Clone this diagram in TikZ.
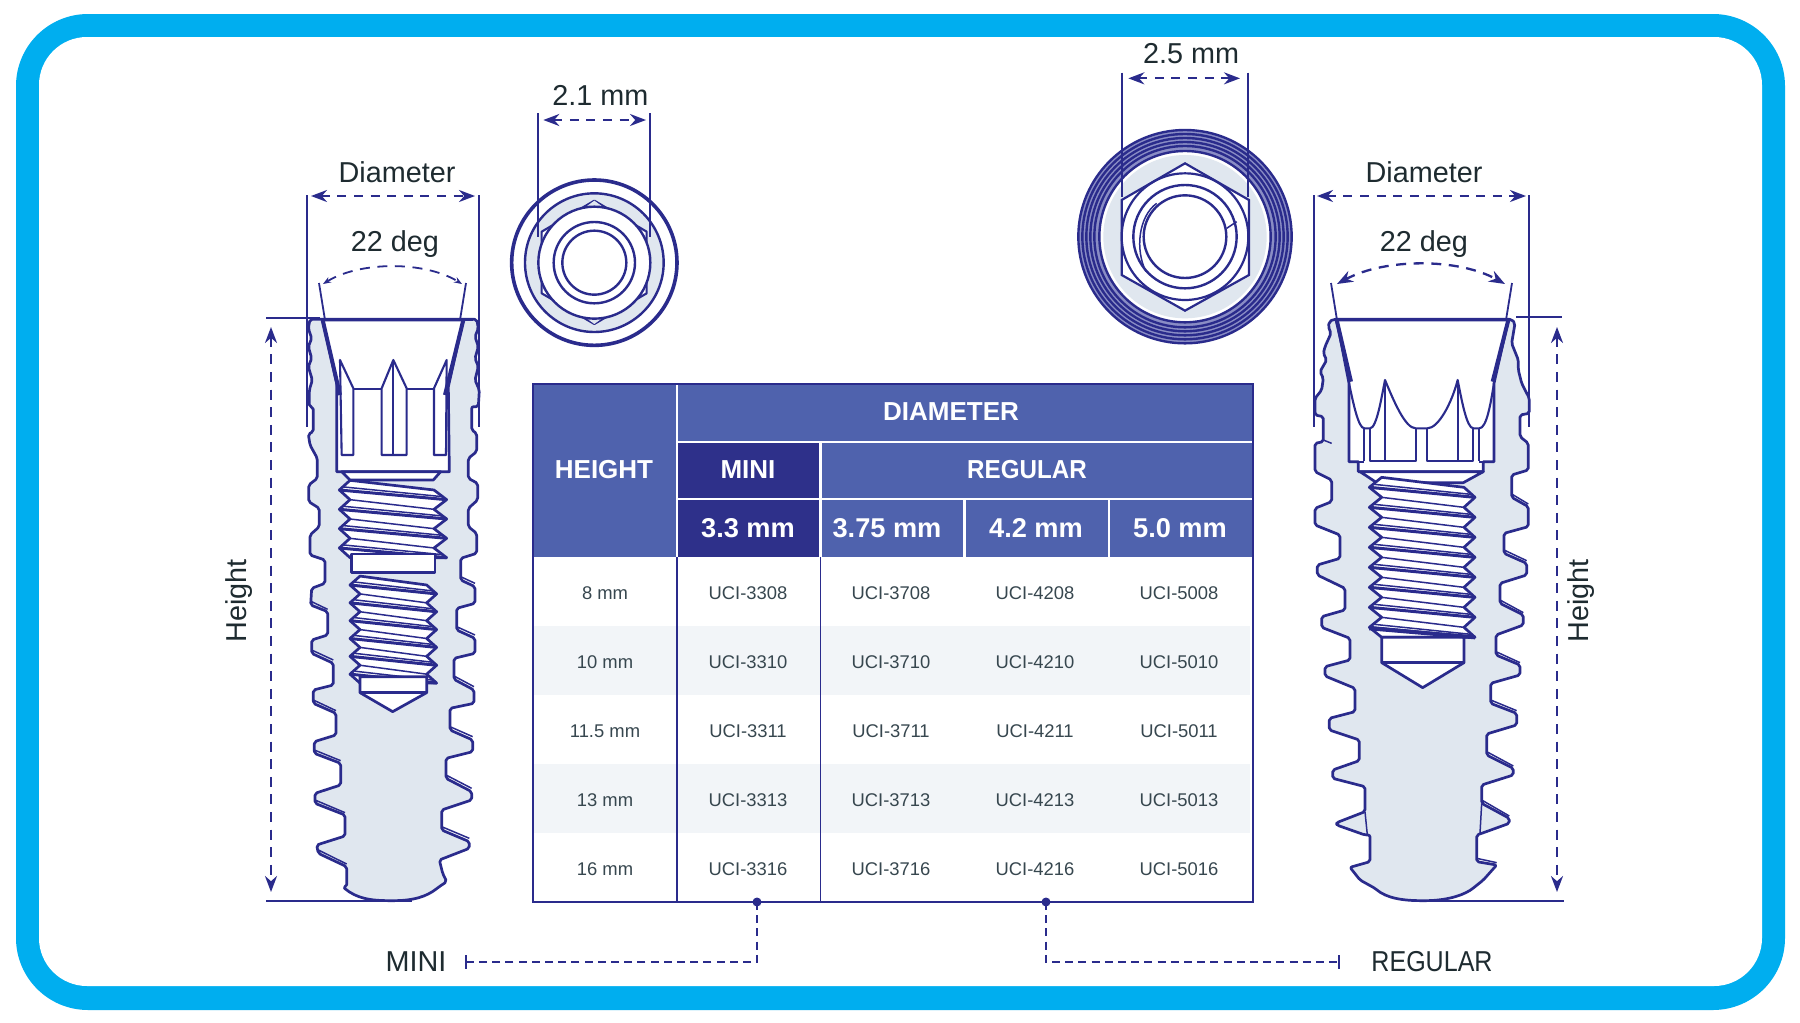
\documentclass[tikz,border=0pt]{standalone}
\usepackage{fontspec}
\setmainfont{Liberation Sans}
\usetikzlibrary{arrows.meta}
\definecolor{ln}{HTML}{2A2B8C}
\definecolor{frame}{HTML}{00AEEF}
\definecolor{hdr}{HTML}{4F62AD}
\definecolor{hdk}{HTML}{2E308A}
\definecolor{body}{HTML}{E0E7EF}
\definecolor{band}{HTML}{F2F5F8}
\definecolor{txt}{HTML}{1E2B30}
\definecolor{ctxt}{HTML}{37474F}
\definecolor{gapc}{HTML}{8A8DC5}
\tikzset{
 lab/.style={inner sep=0pt,text=txt,font=\fontsize{14.4pt}{17pt}\selectfont},
 hd/.style={inner sep=0pt,text=white,font=\fontsize{13pt}{15pt}\selectfont\bfseries},
 hdn/.style={inner sep=0pt,text=white,font=\fontsize{13.6pt}{15pt}\selectfont\bfseries},
 cellt/.style={inner sep=0pt,text=ctxt,font=\fontsize{9.2pt}{11pt}\selectfont},
 dim/.style={draw=ln,line width=1.15pt,dash pattern=on 4.5pt off 3.8pt,{Stealth[length=8pt,width=6pt]}-{Stealth[length=8pt,width=6pt]}},
 dimone/.style={draw=ln,line width=1.15pt,dash pattern=on 5pt off 3.8pt},
 guide/.style={draw=ln,line width=.9pt},
 outl/.style={draw=ln,line width=1.35pt,line join=round},
 thn/.style={draw=ln,line width=.75pt,line join=round},
 thk/.style={draw=ln,line width=1.5pt,line join=round},
 blade/.style={draw=ln,line width=1.05pt,line join=round},
 lead/.style={draw=ln,line width=1pt,dash pattern=on 4pt off 2.6pt},
}
\newcommand{\thrd}[7]{%
 \filldraw[fill=white,outl] (#2,{#5-#6/2})
 \foreach \k in {1,...,#7}{ -- (#1,{#5+(\k-1)*#6}) -- (#2,{#5+(\k-1)*#6+#6/2}) }
 -- (#4,{#5+(#7-1)*#6+#6/2})
 \foreach \k in {#7,...,1}{ -- (#3,{#5+(\k-1)*#6+#6/2}) -- (#4,{#5+(\k-1)*#6}) } -- cycle;
 \foreach \k in {1,...,#7}{
  \draw[thk] (#1,{#5+(\k-1)*#6}) -- (#3,{#5+(\k-1)*#6+#6/2});
  \draw[thn] (#1+14,{#5+(\k-1)*#6-9}) -- (#3-12,{#5+(\k-1)*#6+#6/2-9});
  \draw[thn] (#2,{#5+(\k-1)*#6+#6/2}) -- (#4,{#5+(\k-1)*#6+#6});
 }}
\begin{document}
\begin{tikzpicture}[x=0.5pt,y=-0.5pt]
\useasboundingbox (0,0) rectangle (1800,1023);
\fill[white] (0,0) rectangle (1800,1023);
\fill[frame,rounded corners=36pt] (16,14) rectangle (1785,1010);
\fill[white,rounded corners=24pt] (39,37) rectangle (1762,986);

%% ---------- table
\fill[white] (532,384) rectangle (1254,902);
\fill[band] (534,626) rectangle (1250,695);
\fill[band] (534,764) rectangle (1250,833);
\fill[hdr] (532,384) rectangle (1254,557);
\fill[hdk] (677,442) rectangle (820.5,557);
\draw[white,line width=1.25pt] (677,384)--(677,557) (820.5,442)--(820.5,557) (964.5,499)--(964.5,557) (1109,499)--(1109,557)
 (677,442)--(1254,442) (677,499)--(1254,499);
\draw[ln,line width=.9pt] (533,557)--(533,902) (1253,557)--(1253,902) (677,557)--(677,902) (820.5,557)--(820.5,902)
 (532,384)--(1254,384);
\draw[ln,line width=.7pt] (533,384)--(533,557) (1253,384)--(1253,557);
\draw[ln,line width=1.4pt] (532,902)--(1254,902);
\node[hd] (hHeight) at (604,470) {HEIGHT};
\node[hd] (hDia) at (951,412) {DIAMETER};
\node[hd] (hMini) at (748,470) {MINI};
\node[hd,xscale=.93] (hReg) at (1027,470) {REGULAR};
\node[hdn] (h33) at (748,528) {3.3 mm};
\node[hdn] (h375) at (887,528) {3.75 mm};
\node[hdn] (h42) at (1036,528) {4.2 mm};
\node[hdn] (h50) at (1180,528) {5.0 mm};
\foreach \h/\a/\b/\c/\d/\y in {8 mm/3308/3708/4208/5008/593,10 mm/3310/3710/4210/5010/662,11.5 mm/3311/3711/4211/5011/731,13 mm/3313/3713/4213/5013/800,16 mm/3316/3716/4216/5016/869}{
 \node[cellt] (r\a h) at (605,\y) {\h};
 \node[cellt] (r\a m) at (748,\y) {UCI-\a};
 \node[cellt] (r\a x) at (891,\y) {UCI-\b};
 \node[cellt] (r\a y) at (1035,\y) {UCI-\c};
 \node[cellt] (r\a z) at (1179,\y) {UCI-\d};
}

%% ---------- leaders
\node[lab] (mini) at (416,962) {MINI};
\node[lab,xscale=.87] (regular) at (1432,962) {REGULAR};
\coordinate (dm) at (757,902);
\coordinate (dr) at (1046,902);
\coordinate (em) at (466,962);
\coordinate (er) at (1339,962);
\fill[ln] (dm) circle (4.5);
\fill[ln] (dr) circle (4.5);
\draw[lead] (dm) |- (em);
\draw[lead] (dr) |- (er);
\draw[ln,line width=.9pt] (466,955)--(466,969) (1339,955)--(1339,969);

%% ---------- left implant
\begin{scope}[shift={(200,150)},scale=0.33333]
\filldraw[fill=body,outl,rounded corners=1pt]
 (330,508)--(325,535)--(335,565)--(325,590)--(335,625)--(325,650)--(337,690)--(328,720)--(328,770)--(340,772)--(340,845)--(325,852)--(330,885)--(352,925)--(352,985)--(326,1005)--(326,1055)--(358,1075)--(358,1130)--(330,1155)--(330,1215)--(375,1230)--(375,1300)--(335,1315)--(332,1365)--(383,1385)--(383,1455)--(335,1470)--(335,1510)--(400,1540)--(400,1605)--(340,1620)--(340,1660)--(408,1690)--(408,1755)--(343,1775)--(343,1810)--(422,1840)--(422,1905)--(345,1930)--(345,1960)--(435,1995)--(435,2058)--(350,2085)--(355,2110)--(440,2150)--(440,2210)--(430,2212)
 .. controls (470,2245) and (510,2252) .. (575,2252) .. controls (640,2252) and (680,2240) .. (715,2212)
 --(740,2195)--(728,2170)--(718,2130)--(808,2095)--(808,2075)--(725,2040)--(725,1980)--(815,1950)--(815,1925)--(738,1885)--(738,1825)--(818,1805)--(818,1770)--(750,1740)--(750,1675)--(822,1660)--(822,1620)--(762,1588)--(762,1525)--(825,1510)--(825,1465)--(770,1440)--(770,1375)--(825,1360)--(825,1310)--(782,1290)--(782,1225)--(830,1210)--(830,1150)--(805,1130)--(805,1075)--(833,1050)--(833,1000)--(805,985)--(805,925)--(830,905)--(830,850)--(815,840)--(815,770)--(835,770)--(838,720)--(825,690)--(835,650)--(825,625)--(835,590)--(825,560)--(835,535)--(830,508)--cycle;
\foreach \a/\b/\c/\d in {782/1280/825/1300,770/1430/825/1455,762/1578/822/1610,750/1730/818/1760,738/1875/815/1915,725/2030/808/2065,335/1355/383/1378,335/1500/400/1530,340/1650/408/1682,343/1800/422/1832,345/1950/435/1988,355/2100/440/2142}{
 \draw[thn] (\a,\b)--(\c,\d);}
% bore
\filldraw[fill=white,outl] (368,510)--(410,700)--(410,965)--(748,965)--(745,710)--(790,510)--cycle;
\draw[line width=2pt,ln] (368,510)--(420,735);
\draw[line width=2pt,ln] (790,510)--(735,735);
% drive detail
\draw[blade] (420,630)--(425,915)--(460,915)--(460,715)--cycle;
\draw[blade] (740,630)--(738,915)--(702,915)--(702,715)--cycle;
\draw[blade] (580,630)--(545,715)--(545,915)--(620,915)--(620,715)--cycle;
\draw[blade] (580,630)--(580,915);
\draw[blade] (460,717)--(545,717) (620,717)--(702,717);
% threads
\filldraw[fill=white,outl] (425,965)--(450,990)--(700,990)--(722,965)--cycle;
\thrd{418}{450}{740}{702}{1020}{58}{4}
\filldraw[fill=white,outl] (455,1212)--(455,1268)--(705,1268)--(705,1212)--cycle;
\thrd{450}{480}{710}{680}{1305}{53.5}{6}
\filldraw[fill=white,outl] (480,1580)--(480,1628)--(578,1685)--(680,1628)--(680,1580)--cycle;
\draw[outl] (480,1628)--(680,1628);
\end{scope}
% left dims
\coordinate (lvl1) at (307,195); \coordinate (lvl2) at (307,427);
\coordinate (lvr1) at (479,195); \coordinate (lvr2) at (479,427);
\draw[guide] (lvl1)--(lvl2); \draw[guide] (lvr1)--(lvr2);
\draw[dim] (311,196)--(475,196);
\node[lab] (ldiam) at (397,172) {Diameter};
\node[lab] (l22) at (395,244) {22 deg};
\coordinate (la1) at (319,283); \coordinate (la2) at (325,320);
\coordinate (la3) at (466,283); \coordinate (la4) at (460,320);
\draw[guide] (la1)--(la2); \draw[guide] (la3)--(la4);
\draw[guide] (325,320)--(473,320);
\draw[dimone,line width=.9pt,{Stealth[length=4pt,width=3pt]}-{Stealth[length=4pt,width=3pt]}] (323,284) .. controls (360,261) and (425,261) .. (462,284);
\draw[guide] (266,318)--(320,318);
\draw[guide] (266,901)--(412,901);
\draw[dimone,{Stealth[length=8pt,width=6pt]}-{Stealth[length=8pt,width=6pt]}] (271,327)--(271,892);
\node[lab,rotate=90] (lheight) at (239,601) {Height};

%% ---------- right implant
\begin{scope}[shift={(1270,150)},scale=0.33333]
\filldraw[fill=body,outl,rounded corners=1pt]
 (190,508)--(178,515)--(175,530)--(183,550)--(165,590)--(160,610)--(170,630)--(150,665)--(160,685)--(155,720)--(135,745)--(135,795)--(160,800)--(160,875)--(135,880)--(135,965)--(185,990)--(185,1055)--(135,1075)--(135,1125)--(210,1155)--(210,1225)--(142,1245)--(142,1275)--(225,1315)--(225,1380)--(155,1400)--(155,1432)--(240,1465)--(240,1530)--(165,1550)--(165,1578)--(255,1615)--(255,1685)--(178,1705)--(178,1740)--(268,1770)--(268,1832)--(188,1860)--(188,1885)--(285,1910)--(285,1985)--(200,2018)--(200,2025)--(285,2055)--(300,2055)--(300,2135)--(240,2152)--(270,2190)--(315,2215)
 .. controls (350,2245) and (400,2252) .. (460,2252) .. controls (520,2252) and (570,2240) .. (605,2218)
 --(640,2190)--(680,2145)--(620,2135)--(620,2055)--(635,2050)--(718,2020)--(718,2005)--(635,1960)--(635,1905)--(730,1875)--(730,1855)--(650,1815)--(650,1752)--(740,1725)--(740,1690)--(662,1660)--(662,1600)--(750,1575)--(750,1545)--(678,1515)--(678,1455)--(760,1425)--(760,1395)--(690,1360)--(690,1300)--(770,1275)--(770,1240)--(702,1210)--(702,1150)--(775,1130)--(775,1070)--(725,1042)--(725,975)--(775,960)--(775,880)--(750,860)--(750,795)--(778,790)--(778,745)--(755,700)--(745,660)--(745,630)--(725,580)--(735,520)--(725,508)--cycle;
\foreach \a/\b/\c/\d in {702/1200/770/1232,690/1350/760/1388,678/1505/750/1538,662/1650/740/1682,650/1805/730/1848,635/1950/718/1998,620/2125/680/2138,725/1032/775/1062,160/870/185/880}{
 \draw[thn] (\a,\b)--(\c,\d);}
\draw[thn] (285,1985)--(292,2055) (635,1960)--(630,2050);
% bore
\filldraw[fill=white,outl] (200,510)--(237,700)--(237,935)--(265,935)--(265,965)--(640,965)--(640,935)--(672,935)--(672,700)--(715,510)--cycle;
\draw[line width=2pt,ln] (200,510)--(243,695);
\draw[line width=2pt,ln] (715,510)--(668,695);
% crown
\draw[blade] (237,700) .. controls (250,760) and (265,835) .. (283,835) -- (300,835) .. controls (320,835) and (335,740) .. (345,690)
 .. controls (370,750) and (405,835) .. (437,835) -- (472,835) .. controls (505,835) and (545,760) .. (563,690)
 .. controls (575,750) and (590,835) .. (610,835) -- (628,835) .. controls (650,835) and (662,760) .. (672,700);
\draw[blade] (283,835)--(283,932) (300,835)--(300,932)--(437,932)--(437,835) (472,835)--(472,932)--(610,932)--(610,835) (628,835)--(628,932)
 (345,690)--(345,932) (563,690)--(563,932) (237,935)--(283,935) (628,935)--(672,935);
% threads
\filldraw[fill=white,outl] (270,965)--(320,998)--(580,998)--(640,965)--cycle;
\thrd{298}{335}{615}{582}{1012}{60}{8}
\filldraw[fill=white,outl] (335,1462)--(335,1538)--(458,1613)--(582,1538)--(582,1462)--cycle;
\draw[outl] (335,1538)--(582,1538);
\draw[line width=2pt,ln] (298,1435)--(615,1462);
\end{scope}
% right dims
\coordinate (rvl1) at (1314,195); \coordinate (rvl2) at (1314,427);
\coordinate (rvr1) at (1529,195); \coordinate (rvr2) at (1529,427);
\draw[guide] (rvl1)--(rvl2); \draw[guide] (rvr1)--(rvr2);
\draw[dim] (1317,196)--(1526,196);
\node[lab] (rdiam) at (1424,172) {Diameter};
\node[lab] (r22) at (1424,244) {22 deg};
\coordinate (ra1) at (1331,283); \coordinate (ra2) at (1337,320);
\coordinate (ra3) at (1512,283); \coordinate (ra4) at (1506,320);
\draw[guide] (ra1)--(ra2); \draw[guide] (ra3)--(ra4);
\draw[guide] (1337,320)--(1506,320);
\draw[dimone,{Stealth[length=8pt,width=6pt]}-{Stealth[length=8pt,width=6pt]}] (1337,284) .. controls (1385,258) and (1458,258) .. (1505,284);
\draw[guide] (1516,317)--(1562,317);
\draw[guide] (1423,901)--(1564,901);
\draw[dimone,{Stealth[length=8pt,width=6pt]}-{Stealth[length=8pt,width=6pt]}] (1557,327)--(1557,892);
\node[lab,rotate=90] (rheight) at (1581,601) {Height};

%% ---------- small end view
\begin{scope}[shift={(490,70)},scale=0.33333]
\coordinate (sc) at (313,578);
\filldraw[fill=white,draw=ln,line width=1.8pt] (sc) circle (248);
\filldraw[fill=body,draw=ln,line width=1.2pt] (sc) circle (208);
\draw[blade,fill=white] (313,392)--(470,485)--(470,670)--(313,762)--(155,670)--(155,485)--cycle;
\fill[body] (313,392)--(335,408)--(291,408)--cycle (313,762)--(335,746)--(291,746)--cycle;
\filldraw[fill=white,draw=ln,line width=1.2pt] (sc) circle (168);
\draw[ln,line width=1.2pt] (sc) circle (122);
\draw[ln,line width=1.2pt] (sc) circle (96);
\coordinate (s1) at (145,130); \coordinate (s2) at (145,500);
\coordinate (s3) at (480,130); \coordinate (s4) at (480,500);
\draw[guide] (s1)--(s2); \draw[guide] (s3)--(s4);
\draw[dim] (160,150)--(468,150);
\node[lab] (s21) at (331,75) {2.1 mm};
\end{scope}

%% ---------- large end view
\begin{scope}[shift={(1060,20)},scale=0.33333]
\coordinate (bc) at (375,650);
\fill[gapc] (bc) circle (320);
\foreach \r in {320,308,296,284,272}{\draw[ln,line width=1.2pt] (bc) circle (\r);}
\filldraw[fill=white,draw=ln,line width=1.2pt] (bc) circle (257);
\fill[body] (bc) circle (245);
\filldraw[fill=white,draw=ln,line width=1.1pt] (375,430)--(567,540)--(567,765)--(375,872)--(185,765)--(185,540)--cycle;
\draw[ln,line width=1.1pt] (bc) circle (190);
\draw[ln,line width=1.2pt] (bc) circle (155);
\draw[ln,line width=1.2pt] (bc) circle (124);
\draw[thn] (258,755) .. controls (225,690) and (235,590) .. (290,550);
\draw[thn] (500,625)--(530,605);
\coordinate (b1) at (185,158); \coordinate (b2) at (185,530);
\coordinate (b3) at (565,158); \coordinate (b4) at (565,530);
\draw[guide] (b1)--(b2); \draw[guide] (b3)--(b4);
\draw[dim] (205,175)--(540,175);
\node[lab] (b25) at (393,100) {2.5 mm};
\end{scope}
\end{tikzpicture}
\end{document}
